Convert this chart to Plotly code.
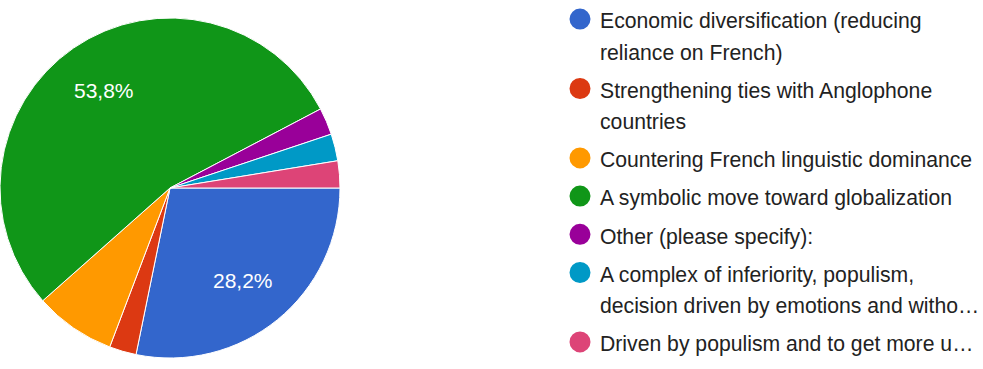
import math
import plotly.graph_objects as go

categories = [
    "Economic diversification (reducing reliance on French)",
    "Strengthening ties with Anglophone countries",
    "Countering French linguistic dominance",
    "A symbolic move toward globalization",
    "Other (please specify):",
    "A complex of inferiority, populism, decision driven by emotions and witho…",
    "Driven by populism and to get more u…",
]
legend_lines = [
    ["Economic diversification (reducing", "reliance on French)"],
    ["Strengthening ties with Anglophone", "countries"],
    ["Countering French linguistic dominance"],
    ["A symbolic move toward globalization"],
    ["Other (please specify):"],
    ["A complex of inferiority, populism,", "decision driven by emotions and witho…"],
    ["Driven by populism and to get more u…"],
]
counts = [11, 1, 3, 21, 1, 1, 1]
colors = ["#3366cc", "#dc3912", "#ff9900", "#109618", "#990099", "#0099c6", "#dd4477"]

W, H = 983, 369
CX, CY, R = 170, 188, 170          # pie centre / radius in pixels
FONT = "Arial, Liberation Sans, sans-serif"

total = sum(counts)

fig = go.Figure()
fig.add_trace(go.Pie(
    labels=categories,
    values=counts,
    textinfo="none",
    marker=dict(colors=colors, line=dict(color="white", width=1)),
    sort=False,
    direction="clockwise",
    rotation=90,
    showlegend=False,
    hoverinfo="label+percent",
    domain=dict(x=[(CX - R) / W, (CX + R) / W], y=[1 - (CY + R) / H, 1 - (CY - R) / H]),
))

# percentage labels on the large slices, placed along each slice's mid-angle
cum = 0
for c in counts:
    p = c / total * 100
    mid = (cum + c / 2) / total
    cum += c
    if p <= 10:
        continue
    a = math.radians(mid * 360)
    px = CX + 0.68 * R * math.cos(a)
    py = CY + 0.70 * R * math.sin(a)
    fig.add_annotation(
        x=px / W, y=1 - py / H, xref="paper", yref="paper",
        xanchor="center", yanchor="middle",
        text=f"{p:.1f}%".replace(".", ","), showarrow=False,
        font=dict(family=FONT, size=21, color="white"),
    )

for i, (lines, col) in enumerate(zip(legend_lines, colors)):
    name = "<br>".join(f'<span style="font-size:21.2px">{ln}</span>' for ln in lines)
    fig.add_trace(go.Scatter(
        x=[None], y=[None], mode="markers", name=name,
        legendgroup=f"g{i}",
        marker=dict(color=col, size=16, symbol="circle", line=dict(color=col, width=5)),
        showlegend=True, hoverinfo="skip",
    ))

fig.update_layout(
    width=W, height=H,
    margin=dict(l=0, r=0, t=0, b=0, autoexpand=False),
    paper_bgcolor="white", plot_bgcolor="white",
    xaxis=dict(visible=False), yaxis=dict(visible=False),
    showlegend=True,
    legend=dict(
        x=560 / W, xanchor="left", y=0.5108, yanchor="middle",
        font=dict(family=FONT, size=24, color="#222222"),
        valign="top", tracegroupgap=4, itemwidth=30,
        bgcolor="rgba(0,0,0,0)", borderwidth=0,
    ),
)

fig.write_html("out.html")
